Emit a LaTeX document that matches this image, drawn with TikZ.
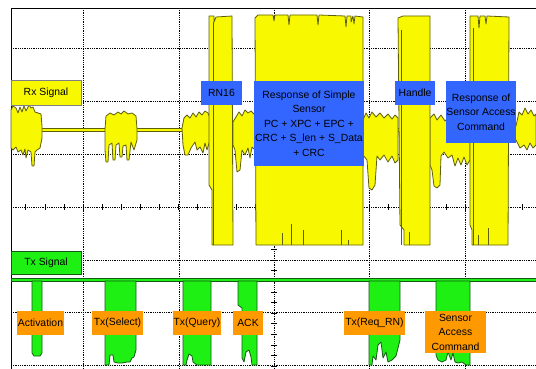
\documentclass[tikz,border=0pt]{standalone}
\usepackage{fontspec}
\setmainfont{Liberation Sans}
\definecolor{rxfill}{RGB}{248,248,0}
\definecolor{rxedge}{RGB}{95,95,10}
\definecolor{txfill}{RGB}{30,240,20}
\definecolor{txedge}{RGB}{20,90,20}
\definecolor{labblue}{RGB}{51,102,255}
\definecolor{laborange}{RGB}{255,153,0}

\begin{document}
\begin{tikzpicture}[x=1pt,y=-1pt,
  grid/.style={densely dotted,line width=0.8pt},
  rx/.style={fill=rxfill,draw=rxedge,line width=0.8pt,line join=round},
  tx/.style={fill=txfill,draw=txedge,line width=0.8pt,line join=round},
  spike/.style={draw=rxedge,line width=0.8pt},
  lab/.style={inner sep=0pt,font=\fontsize{10.4}{14.5}\selectfont,align=center},
  bluelab/.style={lab,fill=labblue},
  orangelab/.style={lab,fill=laborange,minimum height=24pt}]
\useasboundingbox (0,0) rectangle (536,369);
% grid and axes
\foreach \x in {83,179,274,369,465} { \draw[grid] (\x,8) -- (\x,369); }
\foreach \y in {48,101,154,207,260,312,365} { \draw[grid] (11,\y) -- (536,\y); }
\foreach \k in {-18,...,15} { \draw[line width=0.6pt] (271,{207+10.6*\k}) -- (277,{207+10.6*\k}); }
\foreach \k in {-13,...,13} { \draw[line width=0.6pt] ({274+19.1*\k},204) -- ({274+19.1*\k},210); }
\draw[line width=0.8pt] (11,369) -- (11,8) -- (536,8);
% Rx signal
\filldraw[rx] (11,128.5) -- (536,128.5) -- (536,131.5) -- (11,131.5) -- cycle;
\filldraw[rx] (11,110) -- (13,106) -- (16,108) -- (18,113) -- (20,107) -- (22,112) -- (24,106) -- (26,111) -- (29,105) -- (31,108) -- (33,107) -- (35,112) -- (38,113) -- (41,114) -- (42,126) -- (42,138) -- (40,148) -- (37,150) -- (35,152) -- (34,166) -- (32,166) -- (31,152) -- (28,150) -- (26,158) -- (25,149) -- (23,155) -- (21,150) -- (18,152) -- (16,147) -- (13,150) -- (11,148) -- cycle;
\filldraw[rx] (105,129) -- (106,116) -- (110,113) -- (114,115) -- (118,112) -- (121,114) -- (124,111) -- (128,114) -- (132,113) -- (136,116) -- (137,129) -- (137,140) -- (134,150) -- (131,142) -- (129,160) -- (127,160) -- (126,145) -- (123,146) -- (122,157) -- (120,157) -- (119,143) -- (116,145) -- (115,160) -- (113,160) -- (112,143) -- (109,145) -- (108,162) -- (106,162) -- (105,150) -- cycle;
\filldraw[rx] (182,128) -- (184,118) -- (187,115) -- (190,118) -- (193,113) -- (196,117) -- (199,112) -- (202,115) -- (205,111) -- (208,113) -- (210,118) -- (210,140) -- (207,150) -- (205,143) -- (203,153) -- (200,147) -- (197,150) -- (195,142) -- (191,148) -- (188,155) -- (185,155) -- (183,145) -- cycle;
\filldraw[rx] (233,122) -- (236,117) -- (239,112) -- (242,116) -- (245,110) -- (248,113) -- (251,111) -- (255,115) -- (255,150) -- (252,147) -- (250,158) -- (248,148) -- (245,155) -- (242,150) -- (240,170) -- (237,172) -- (235,150) -- (233,145) -- cycle;
\filldraw[rx] (363,120) -- (366,113) -- (369,118) -- (372,112) -- (376,117) -- (380,113) -- (384,118) -- (388,114) -- (392,119) -- (395,115) -- (398,118) -- (398,160) -- (395,163) -- (392,156) -- (388,162) -- (384,155) -- (380,160) -- (377,156) -- (375,185) -- (372,190) -- (369,188) -- (367,160) -- (363,155) -- cycle;
\filldraw[rx] (430,118) -- (434,114) -- (437,120) -- (441,115) -- (445,121) -- (449,117) -- (453,123) -- (457,119) -- (461,124) -- (465,120) -- (470,122) -- (470,160) -- (467,165) -- (464,157) -- (461,165) -- (458,158) -- (455,166) -- (452,155) -- (448,158) -- (444,152) -- (441,156) -- (440,185) -- (437,188) -- (434,186) -- (432,170) -- (430,165) -- cycle;
\filldraw[rx] (508,125) -- (512,122) -- (516,126) -- (519,112) -- (522,115) -- (525,108) -- (528,114) -- (531,110) -- (534,116) -- (536,114) -- (536,145) -- (533,148) -- (530,143) -- (527,150) -- (524,145) -- (520,148) -- (516,140) -- (512,138) -- (508,136) -- cycle;
% tall Rx blocks
\filldraw[rx] (212,245) -- (212,190) -- (209,185) -- (209,16) -- (214,16) -- (214,22) -- (216,17) -- (232,16) -- (233,245) -- cycle;
\filldraw[rx] (256,245) -- (255,18) -- (258,15) -- (273,15) -- (274,21) -- (275,15) -- (288,15) -- (289,25) -- (290,15) -- (317,15) -- (318,25) -- (319,15) -- (345,16) -- (346,27) -- (347,16) -- (351,16) -- (351,22) -- (353,16) -- (354,24) -- (355,16) -- (363,17) -- (363,245) -- cycle;
\filldraw[rx] (404,245) -- (404,230) -- (400,225) -- (398,18) -- (403,16) -- (430,16) -- (430,245) -- cycle;
\filldraw[rx] (472,245) -- (472,230) -- (470,225) -- (470,16) -- (478,16) -- (479,28) -- (480,16) -- (485,16) -- (486,24) -- (487,16) -- (509,17) -- (508,245) -- cycle;
\foreach \x/\y in {213/30, 282/233, 291/224, 303/230, 341/230, 348/240, 409/232, 478/235, 488/228} { \draw[spike] (\x,245) -- (\x,\y); }
\foreach \x/\y in {213/22, 401/30, 473/28} { \draw[spike] (\x,\y) -- (\x,245); }
% Tx signal
\filldraw[tx] (11,278.5) -- (536,278.5) -- (536,281.5) -- (11,281.5) -- cycle;
\filldraw[tx] (32,281) -- (32,353) -- (34,356) -- (40,356) -- (42,353) -- (42,281) -- cycle;
\filldraw[tx] (105,281) -- (105,365) -- (109,365) -- (110,355) -- (113,355) -- (114,362) -- (118,363) -- (122,363) -- (127,362) -- (130,362) -- (132,358) -- (134,357) -- (136,350) -- (136,281) -- cycle;
\filldraw[tx] (183,281) -- (183,365) -- (186,365) -- (187,360) -- (189,354) -- (192,356) -- (193,362) -- (197,365) -- (211,365) -- (211,281) -- cycle;
\filldraw[tx] (238,281) -- (238,305) -- (242,308) -- (242,358) -- (244,362) -- (246,352) -- (249,350) -- (251,357) -- (252,365) -- (257,365) -- (257,281) -- cycle;
\filldraw[tx] (369,281) -- (369,365) -- (372,365) -- (373,356) -- (376,360) -- (378,345) -- (381,342) -- (383,358) -- (386,352) -- (388,362) -- (392,360) -- (396,356) -- (400,340) -- (400,281) -- cycle;
\filldraw[tx] (436,281) -- (436,355) -- (438,360) -- (442,362) -- (446,360) -- (448,352) -- (451,360) -- (453,353) -- (455,362) -- (458,363) -- (462,362) -- (466,365) -- (470,365) -- (470,281) -- cycle;
% labels
\node[lab,fill=rxfill,draw=gray,minimum width=70pt,minimum height=25pt] (rxsig) at (46,93) {Rx Signal};
\node[bluelab,minimum width=41pt,minimum height=24pt] (rn16) at (221.5,93) {RN16};
\node[bluelab,minimum width=110pt,minimum height=85pt] (simple) at (309,123.5) {Response of Simple\\Sensor\\PC + XPC + EPC +\\CRC + S\_len + S\_Data\\+ CRC};
\node[bluelab,minimum width=40pt,minimum height=24pt] (handle) at (415,93) {Handle};
\node[bluelab,minimum width=70pt,minimum height=62pt] (sacresp) at (481,112) {Response of\\Sensor Access\\Command};
\node[lab,fill=txfill,draw=txedge,minimum width=70pt,minimum height=23pt] (txsig) at (46,262.5) {Tx Signal};
\node[orangelab,minimum width=47pt] (activation) at (40.5,323) {Activation};
\node[orangelab,minimum width=51pt] (select) at (117.5,323) {Tx(Select)};
\node[orangelab,minimum width=48pt] (query) at (197,323) {Tx(Query)};
\node[orangelab,minimum width=30pt] (ack) at (248,323) {ACK};
\node[orangelab,minimum width=61pt] (reqrn) at (374.5,323) {Tx(Req\_RN)};
\node[orangelab,minimum width=61pt,minimum height=42pt] (saccmd) at (455.5,332) {Sensor\\Access\\Command};
\end{tikzpicture}
\end{document}
